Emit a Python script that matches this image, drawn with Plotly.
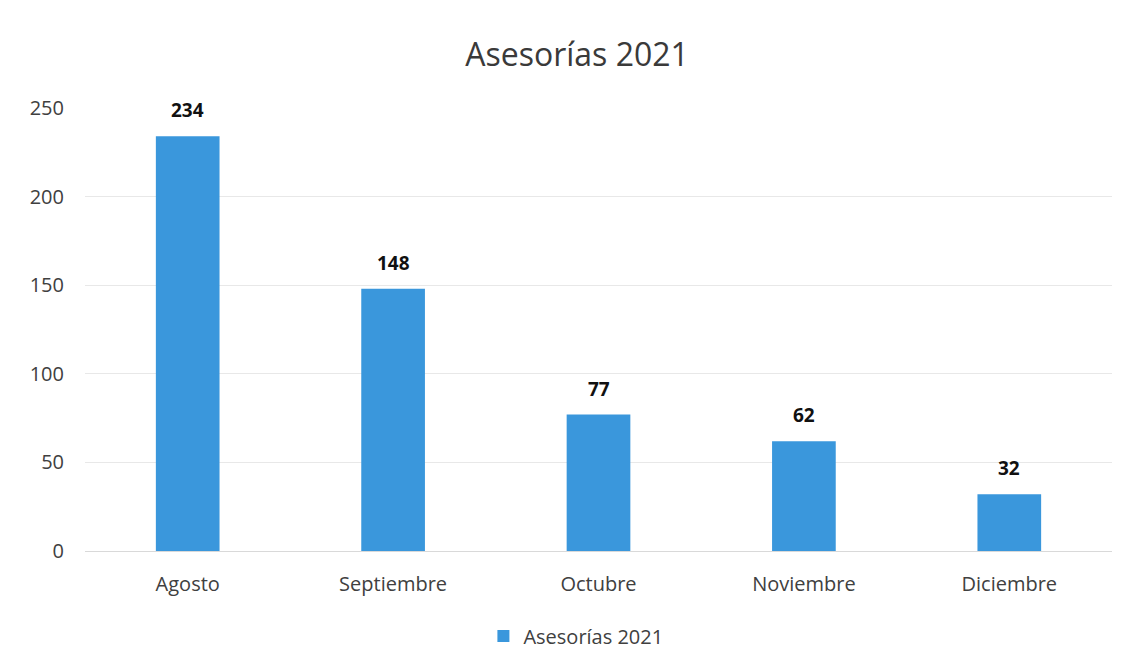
import plotly.graph_objects as go

months = ["Agosto", "Septiembre", "Octubre", "Noviembre", "Diciembre"]
values = [234, 148, 77, 62, 32]
series_name = "Asesorías 2021"
y_ticks = [0, 50, 100, 150, 200, 250]

FONT = "Open Sans, Lato, sans-serif"

fig = go.Figure()
fig.add_trace(go.Bar(
    x=months, y=values, name=series_name,
    marker=dict(color="#3a97dc", line=dict(width=0)),
    showlegend=True,
))

for m, v in zip(months, values):
    fig.add_annotation(
        x=m, y=v, text="<b>%d</b>" % v, showarrow=False,
        xanchor="center", yanchor="bottom", yshift=11,
        font=dict(family=FONT, size=19, color="#111111"),
    )

fig.update_layout(
    width=1123, height=662,
    paper_bgcolor="white", plot_bgcolor="white",
    margin=dict(l=77, r=19, t=100, b=119),
    title=dict(text=series_name, x=0.5067, xanchor="center", y=0.93, yanchor="middle",
               font=dict(family=FONT, size=32, color="#3a3a3a")),
    font=dict(family=FONT, size=20, color="#404040"),
    bargap=0.69,
    showlegend=True,
    legend=dict(orientation="h", x=0.478, xanchor="center", y=-0.192, yanchor="middle",
                itemwidth=30, font=dict(family=FONT, size=20, color="#404040")),
    xaxis=dict(showgrid=False, showline=True, linecolor="#d9d9d9", linewidth=1,
               ticks="", ticklabelstandoff=15,
               tickfont=dict(family=FONT, size=20, color="#404040")),
    yaxis=dict(range=[0, 250], tickvals=y_ticks, showgrid=True, gridcolor="#e8e8e8",
               gridwidth=1, zeroline=False, showline=False, ticks="",
               ticklabelstandoff=20,
               tickfont=dict(family=FONT, size=20, color="#404040")),
)

fig.write_html("out.html")
